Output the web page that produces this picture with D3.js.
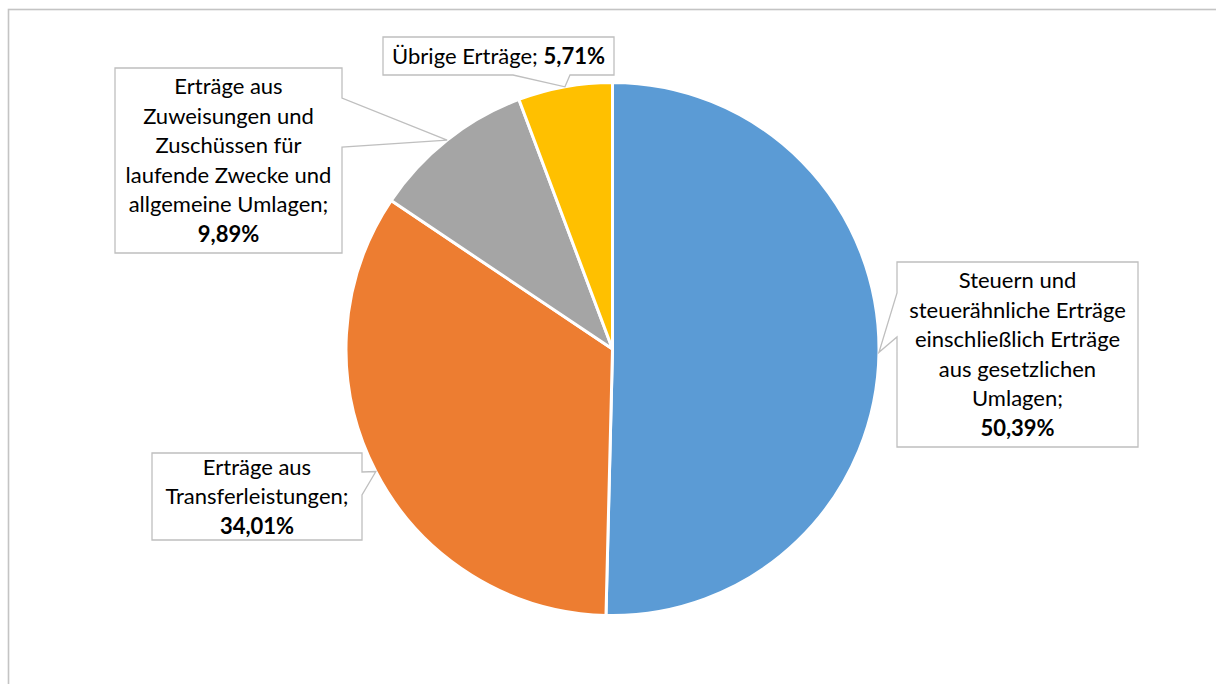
<!DOCTYPE html>
<html>
<head>
<meta charset="utf-8">
<script src="https://cdn.jsdelivr.net/npm/d3@7"></script>
<style>
  body { margin: 0; background: #fff; }
  svg { display: block; font-family: Lato, "Open Sans", sans-serif; }
</style>
</head>
<body>
<div id="chart"></div>
<script>
// data (share of Erträge, in percent)
const categories = [
    "Steuern und steuerähnliche Erträge einschließlich Erträge aus gesetzlichen Umlagen",
    "Erträge aus Transferleistungen",
    "Erträge aus Zuweisungen und Zuschüssen für laufende Zwecke und allgemeine Umlagen",
    "Übrige Erträge"
];
const values = [50.39, 34.01, 9.89, 5.71];
const valueLabels = ["50,39%", "34,01%", "9,89%", "5,71%"];
const colors = ["#5B9BD5", "#ED7D31", "#A5A5A5", "#FFC000"];

// how the category text wraps inside each callout
const labelLines = [
    ["Steuern und", "steuerähnliche Erträge", "einschließlich Erträge", "aus gesetzlichen", "Umlagen;"],
    ["Erträge aus", "Transferleistungen;"],
    ["Erträge aus", "Zuweisungen und", "Zuschüssen für", "laufende Zwecke und", "allgemeine Umlagen;"],
    ["Übrige Erträge; "]   // value goes on the same line
];

// callout boxes: x0,y0,x1,y1 + which side the wedge leaves from, and wedge base
const boxes = [
    {x0: 897, y0: 262, x1: 1138, y1: 447, side: "left",   b0: 293, b1: 337},
    {x0: 152, y0: 453, x1: 362,  y1: 540, side: "right",  b0: 472, b1: 495},
    {x0: 115, y0: 68,  x1: 342,  y1: 253, side: "right",  b0: 98,  b1: 147},
    {x0: 383, y0: 37,  x1: 614,  y1: 75,  side: "bottom", b0: 513, b1: 570}
];

const width = 1216, height = 684;
const cx = 612.5, cy = 349, radius = 266.5;
const lineH = 29.5, fontSize = 22;

const svg = d3.select("#chart").append("svg")
    .attr("width", width)
    .attr("height", height);

// chart area border (runs off the right and bottom of the picture)
svg.append("rect")
    .attr("x", 8.5).attr("y", 9.5)
    .attr("width", 1230).attr("height", 700)
    .attr("fill", "#fff")
    .attr("stroke", "#c4c4c4")
    .attr("stroke-width", 1.6);

const pie = d3.pie().sort(null).value(d => d);
const arcs = pie(values);
const arc = d3.arc().innerRadius(0).outerRadius(radius);

const g = svg.append("g").attr("transform", `translate(${cx},${cy})`);

g.selectAll("path.slice")
    .data(arcs)
    .enter()
    .append("path")
    .attr("class", "slice")
    .attr("d", arc)
    .attr("fill", (d, i) => colors[i])
    .attr("stroke", "#fff")
    .attr("stroke-width", 3)
    .attr("stroke-linejoin", "round");

// tip of each callout sits on the rim at the slice's middle angle
function tipPoint(d) {
    const a = (d.startAngle + d.endAngle) / 2;
    return [cx + radius * Math.sin(a), cy - radius * Math.cos(a)];
}

function calloutPath(b, tip) {
    const p = d3.path();
    p.moveTo(b.x0, b.y0);
    if (b.side === "top") {
        p.lineTo(b.b0, b.y0); p.lineTo(tip[0], tip[1]); p.lineTo(b.b1, b.y0);
    }
    p.lineTo(b.x1, b.y0);
    if (b.side === "right") {
        p.lineTo(b.x1, b.b0); p.lineTo(tip[0], tip[1]); p.lineTo(b.x1, b.b1);
    }
    p.lineTo(b.x1, b.y1);
    if (b.side === "bottom") {
        p.lineTo(b.b1, b.y1); p.lineTo(tip[0], tip[1]); p.lineTo(b.b0, b.y1);
    }
    p.lineTo(b.x0, b.y1);
    if (b.side === "left") {
        p.lineTo(b.x0, b.b1); p.lineTo(tip[0], tip[1]); p.lineTo(b.x0, b.b0);
    }
    p.closePath();
    return p.toString();
}

const labels = svg.selectAll("g.label")
    .data(arcs)
    .enter()
    .append("g")
    .attr("class", "label");

labels.append("path")
    .attr("d", (d, i) => calloutPath(boxes[i], tipPoint(d)))
    .attr("fill", "#fff")
    .attr("stroke", "#bfbfbf")
    .attr("stroke-width", 1.3);

labels.each(function (d, i) {
    const b = boxes[i];
    const lines = labelLines[i];
    const midX = (b.x0 + b.x1) / 2;
    const sameLine = i === 3;
    const n = sameLine ? 1 : lines.length + 1;
    const top = (b.y0 + b.y1) / 2 - n * lineH / 2;
    const t = d3.select(this).append("text")
        .attr("text-anchor", "middle")
        .attr("font-size", fontSize)
        .attr("fill", "#000");
    if (sameLine) {
        const tl = t.attr("x", midX).attr("y", top + lineH / 2 + 7.5);
        tl.append("tspan").text(lines[0]);
        tl.append("tspan").attr("font-weight", "bold").text(valueLabels[i]);
        return;
    }
    lines.forEach((ln, k) => {
        t.append("tspan")
            .attr("x", midX)
            .attr("y", top + lineH * k + lineH / 2 + 7.5)
            .text(ln);
    });
    t.append("tspan")
        .attr("x", midX)
        .attr("y", top + lineH * lines.length + lineH / 2 + 7.5)
        .attr("font-weight", "bold")
        .text(valueLabels[i]);
});
</script>
</body>
</html>
